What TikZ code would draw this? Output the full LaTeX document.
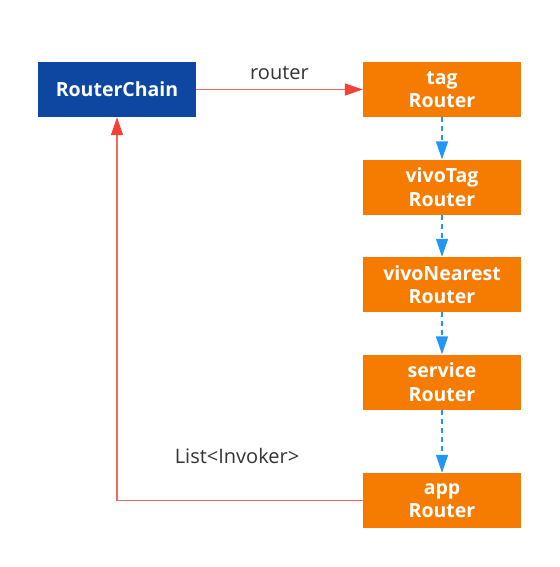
\documentclass[tikz,border=0pt]{standalone}
\usepackage{fontspec}
\setmainfont{Open Sans}
\usetikzlibrary{arrows.meta}
\definecolor{chainblue}{HTML}{0E47A1}
\definecolor{routerorange}{HTML}{F57C00}
\definecolor{linered}{HTML}{F06A60}
\definecolor{tipred}{HTML}{F44336}
\definecolor{dashblue}{HTML}{2196F3}
\definecolor{labelgray}{HTML}{333333}
\tikzset{
  x=1pt,y=-1pt,
  box/.style={minimum width=158pt,minimum height=55pt,inner sep=0pt,align=center,text=white,font=\fontsize{19.5}{23.5}\selectfont\bfseries},
  chainbox/.style={box,fill=chainblue},
  routerbox/.style={box,fill=routerorange},
  redline/.style={draw=linered,line width=1.5pt,-{Triangle[length=18pt,width=12pt,color=tipred]}},
  bluedash/.style={draw=dashblue,line width=1.5pt,dash pattern=on 5pt off 4pt,-{Triangle[length=18pt,width=12pt]}},
  lbl/.style={text=labelgray,font=\fontsize{20}{24}\selectfont}
}
\begin{document}
\begin{tikzpicture}
\useasboundingbox (0,0) rectangle (559,567);
\node[chainbox] (chain) at (117,89.5) {RouterChain};
\node[routerbox] (tag) at (442,89.5) {tag\\Router};
\node[routerbox] (vivotag) at (442,187) {vivoTag\\Router};
\node[routerbox] (nearest) at (442,284.5) {vivoNearest\\Router};
\node[routerbox] (service) at (442,382) {service\\Router};
\node[routerbox] (app) at (442,500.5) {app\\Router};
\draw[redline] (chain) -- node[lbl,above=6pt] {router} (tag);
\draw[bluedash] (tag) -- (vivotag);
\draw[bluedash] (vivotag) -- (nearest);
\draw[bluedash] (nearest) -- (service);
\draw[bluedash] (service) -- (app);
\coordinate (corner) at (117,500.5);
\draw[redline] (app.west) -- (corner) -- (chain.south);
\node[lbl] (listlbl) at (237,456) {List<Invoker>};
\end{tikzpicture}
\end{document}
